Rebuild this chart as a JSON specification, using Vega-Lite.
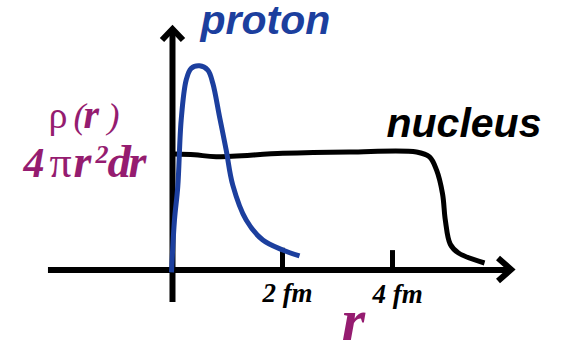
{
  "$schema": "https://vega.github.io/schema/vega-lite/v6.json",
  "width": 571,
  "height": 342,
  "autosize": "none",
  "padding": 0,
  "background": "white",
  "config": {"view": {"stroke": null}},
  "datasets": {
    "frame": [
      {"part": "r-axis", "i": 0, "r": -2.264, "d": 0},
      {"part": "r-axis", "i": 1, "r": 6.136, "d": 0},
      {"part": "rho-axis", "i": 0, "r": 0, "d": -0.274},
      {"part": "rho-axis", "i": 1, "r": 0, "d": 2.06},
      {"part": "rho-arrow", "i": 0, "r": -0.191, "d": 1.966},
      {"part": "rho-arrow", "i": 1, "r": 0, "d": 2.06},
      {"part": "rho-arrow", "i": 2, "r": 0.191, "d": 1.966},
      {"part": "r-arrow", "i": 0, "r": 5.918, "d": 0.103},
      {"part": "r-arrow", "i": 1, "r": 6.155, "d": 0.004},
      {"part": "r-arrow", "i": 2, "r": 5.918, "d": -0.094}
    ],
    "ticks": [
      {"r": 2, "d": 0, "top": 0.19, "below": -0.274, "label": "2 fm"},
      {"r": 4, "d": 0, "top": 0.17, "below": -0.282, "label": "4 fm"}
    ],
    "density": [
      {"series": "nucleus", "i": 0, "r": 0.036, "d": 0.991},
      {"series": "nucleus", "i": 1, "r": 0.4, "d": 0.985},
      {"series": "nucleus", "i": 2, "r": 0.794, "d": 0.968},
      {"series": "nucleus", "i": 3, "r": 2.005, "d": 0.997},
      {"series": "nucleus", "i": 4, "r": 3.218, "d": 1.009},
      {"series": "nucleus", "i": 5, "r": 4.436, "d": 1.009},
      {"series": "nucleus", "i": 6, "r": 4.673, "d": 0.966},
      {"series": "nucleus", "i": 7, "r": 4.8, "d": 0.855},
      {"series": "nucleus", "i": 8, "r": 4.91, "d": 0.65},
      {"series": "nucleus", "i": 9, "r": 4.96, "d": 0.427},
      {"series": "nucleus", "i": 10, "r": 5.05, "d": 0.22},
      {"series": "nucleus", "i": 11, "r": 5.2, "d": 0.145},
      {"series": "nucleus", "i": 12, "r": 5.673, "d": 0.06},
      {"series": "proton", "i": 0, "r": -0.018, "d": -0.02},
      {"series": "proton", "i": 1, "r": 0.036, "d": 0.427},
      {"series": "proton", "i": 2, "r": 0.096, "d": 0.712},
      {"series": "proton", "i": 3, "r": 0.158, "d": 1.282},
      {"series": "proton", "i": 4, "r": 0.249, "d": 1.624},
      {"series": "proton", "i": 5, "r": 0.34, "d": 1.724},
      {"series": "proton", "i": 6, "r": 0.491, "d": 1.746},
      {"series": "proton", "i": 7, "r": 0.642, "d": 1.709},
      {"series": "proton", "i": 8, "r": 0.733, "d": 1.596},
      {"series": "proton", "i": 9, "r": 0.855, "d": 1.31},
      {"series": "proton", "i": 10, "r": 0.976, "d": 1.026},
      {"series": "proton", "i": 11, "r": 1.096, "d": 0.726},
      {"series": "proton", "i": 12, "r": 1.34, "d": 0.427},
      {"series": "proton", "i": 13, "r": 1.642, "d": 0.256},
      {"series": "proton", "i": 14, "r": 2.005, "d": 0.171},
      {"series": "proton", "i": 15, "r": 2.309, "d": 0.12}
    ],
    "names": [
      {"series": "proton", "r": 0.509, "d": 2.017},
      {"series": "nucleus", "r": 3.891, "d": 1.137}
    ]
  },
  "encoding": {
    "x": {"field": "r", "type": "quantitative", "axis": null,
          "scale": {"domain": [-3.136, 7.245], "nice": false, "zero": false}},
    "y": {"field": "d", "type": "quantitative", "axis": null,
          "scale": {"domain": [-0.6154, 2.3077], "nice": false, "zero": false}}
  },
  "layer": [
    {
      "data": {"name": "frame"},
      "mark": {"type": "line", "color": "black", "strokeWidth": 6, "strokeCap": "butt", "strokeJoin": "miter"},
      "encoding": {
        "detail": {"field": "part"},
        "order": {"field": "i", "type": "quantitative"}
      }
    },
    {
      "data": {"name": "ticks"},
      "mark": {"type": "rule", "color": "black", "strokeWidth": 5},
      "encoding": {
        "y2": {"field": "top"}
      }
    },
    {
      "data": {"name": "ticks"},
      "mark": {"type": "text", "font": "Liberation Serif", "fontStyle": "italic", "fontWeight": "bold",
               "fontSize": 27, "align": "center", "baseline": "alphabetic", "dx": 5, "color": "black"},
      "encoding": {
        "y": {"field": "below", "type": "quantitative"},
        "text": {"field": "label"}
      }
    },
    {
      "data": {"name": "density"},
      "mark": {"type": "line", "strokeWidth": 5, "interpolate": "catmull-rom", "strokeCap": "butt"},
      "encoding": {
        "color": {"field": "series", "type": "nominal", "legend": null,
                  "scale": {"domain": ["nucleus", "proton"], "range": ["#000000", "#1c3f9e"]}},
        "order": {"field": "i", "type": "quantitative"}
      }
    },
    {
      "data": {"name": "names"},
      "mark": {"type": "text", "font": "Liberation Sans", "fontStyle": "italic", "fontWeight": "bold",
               "fontSize": 41, "align": "left", "baseline": "alphabetic"},
      "encoding": {
        "text": {"field": "series"},
        "color": {"field": "series", "type": "nominal", "legend": null}
      }
    },
    {
      "data": {"values": [{"r": 3.291, "d": -0.598, "t": "r"}]},
      "mark": {"type": "text", "font": "Liberation Serif", "fontStyle": "italic", "fontWeight": "bold",
               "fontSize": 60, "align": "center", "baseline": "alphabetic", "color": "#951c70"},
      "encoding": {"text": {"field": "t"}}
    },
    {
      "data": {"values": [
        {"r": -2.255, "d": 1.214, "t": "ρ", "size": 38},
        {"r": -2.236, "d": 0.795, "t": "π", "size": 44}
      ]},
      "mark": {"type": "text", "font": "Liberation Serif", "align": "left", "baseline": "alphabetic", "color": "#951c70"},
      "encoding": {
        "text": {"field": "t"},
        "size": {"field": "size", "type": "quantitative", "scale": null, "legend": null}
      }
    },
    {
      "data": {"values": [
        {"r": -1.8, "d": 1.214, "t": "(", "size": 36},
        {"r": -1.182, "d": 1.214, "t": ")", "size": 36}
      ]},
      "mark": {"type": "text", "font": "Liberation Serif", "fontStyle": "italic",
               "align": "left", "baseline": "alphabetic", "color": "#951c70"},
      "encoding": {
        "text": {"field": "t"},
        "size": {"field": "size", "type": "quantitative", "scale": null, "legend": null}
      }
    },
    {
      "data": {"values": [
        {"r": -1.618, "d": 1.214, "t": "r", "size": 40},
        {"r": -2.709, "d": 0.795, "t": "4", "size": 42},
        {"r": -1.8, "d": 0.795, "t": "r", "size": 46},
        {"r": -1.4, "d": 0.915, "t": "2", "size": 26},
        {"r": -1.182, "d": 0.795, "t": "d", "size": 47},
        {"r": -0.8, "d": 0.795, "t": "r", "size": 46}
      ]},
      "mark": {"type": "text", "font": "Liberation Serif", "fontStyle": "italic", "fontWeight": "bold",
               "align": "left", "baseline": "alphabetic", "color": "#951c70"},
      "encoding": {
        "text": {"field": "t"},
        "size": {"field": "size", "type": "quantitative", "scale": null, "legend": null}
      }
    }
  ]
}
